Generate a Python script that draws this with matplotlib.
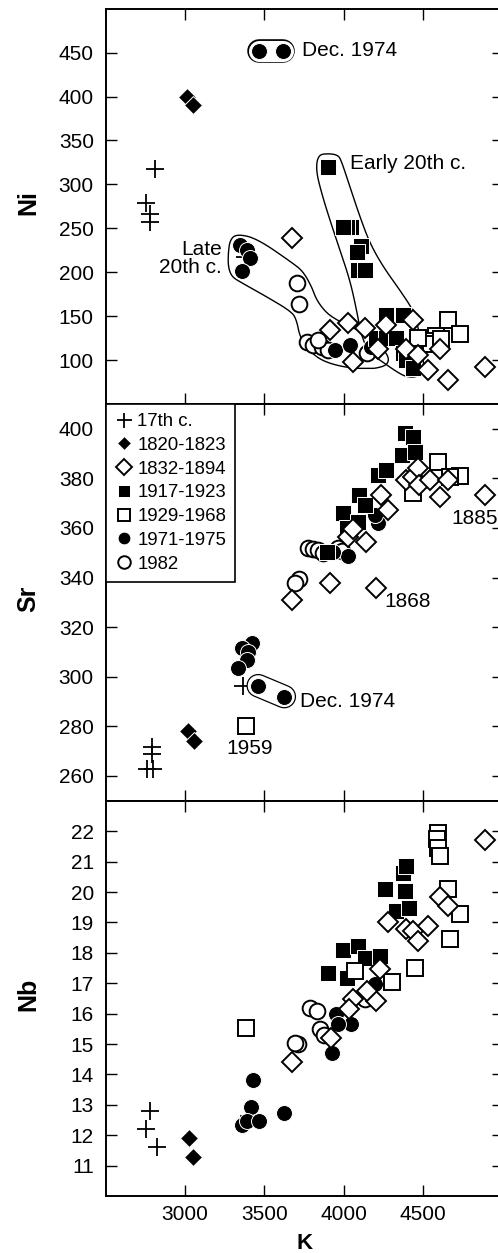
import matplotlib
matplotlib.use("Agg")
import matplotlib.pyplot as plt
import numpy as np
from matplotlib.path import Path
from matplotlib.patches import PathPatch

plt.rcParams['font.family'] = ['Liberation Sans', 'DejaVu Sans']

# ---------------- data ----------------
groups = ['17th c.', '1820-1823', '1832-1894', '1917-1923', '1929-1968', '1971-1975', '1982']

# Ni panel
k_ni_17c = [2811, 2753, 2780, 2780, 3377]
ni_17c = [317, 279, 266, 257, 217]
k_ni_1820 = [3015, 3052]
ni_1820 = [400, 390]
k_ni_1832 = [3671, 3912, 4027, 4132, 4268, 4436, 4216, 4058, 4394, 4468, 4531, 4656, 4604, 4887]
ni_1832 = [239, 134, 142, 136, 140, 146, 112, 98, 113, 106, 89, 77, 113, 92]
k_ni_1917 = [3901, 4044, 4019, 3996, 4110, 4080, 4090, 4132, 4268, 4373, 4205, 4268, 4331, 4373, 4394, 4436]
ni_1917 = [320, 251, 251, 251, 230, 223, 203, 203, 151, 151, 125, 125, 125, 108, 100, 91]
k_ni_1929 = [4656, 4730, 4583, 4560, 4551, 4614, 4468]
ni_1929 = [146, 130, 127, 122, 118, 124, 125]
k_ni_1971 = [3346, 3388, 3409, 3356, 3943, 4038, 4174]
ni_1971 = [231, 225, 216, 201, 111, 117, 115]
k_ni_dec74 = [3467, 3618]
ni_dec74 = [452, 452]
k_ni_1982 = [3702, 3717, 3765, 3807, 3860, 3901, 4143, 3840]
ni_1982 = [188, 164, 121, 117, 115, 111, 108, 123]

# Sr panel
k_sr_17c = [2790, 2790, 2759, 2801, 3367]
sr_17c = [271.8, 269, 263, 263, 296.4]
k_sr_1820 = [3021, 3058]
sr_1820 = [278, 274]
k_sr_1832 = [3675, 3912, 4201, 4027, 4058, 4137, 4233, 4279, 4394, 4436, 4468, 4474, 4541, 4604, 4656, 4887]
sr_1832 = [331, 338, 335.7, 356.5, 359.5, 354.2, 373.3, 367.3, 379.4, 380.4, 384, 377.3, 379.4, 372.6, 379.4, 373.3]
k_sr_1917 = [3897, 3996, 4017, 4097, 4132, 4090, 4216, 4268, 4363, 4384, 4436, 4447]
sr_1917 = [350.2, 365.9, 360, 373.3, 369.3, 362.5, 381.4, 383.4, 389.4, 398.2, 396.8, 390.8]
k_sr_1929 = [3381, 4593, 4730, 4667, 4436]
sr_1929 = [280.3, 386.7, 381, 380.7, 374]
k_sr_1971 = [3419, 3356, 3398, 3388, 3335, 4027, 4212, 4195, 3933]
sr_1971 = [313.5, 311.5, 310, 306.8, 303.4, 348.7, 362, 365.2, 350.4]
k_sr_dec74 = [3461, 3625]
sr_dec74 = [296.4, 292]
k_sr_1982 = [3719, 3692, 3776, 3807, 3840, 3870, 3960, 3990]
sr_1982 = [339.3, 338, 351.8, 351.5, 351, 350, 351.8, 350.5]

# Nb panel
k_nb_17c = [2780, 2753, 2822, 3403]
nb_17c = [12.8, 12.2, 11.6, 12.63]
k_nb_1820 = [3027, 3052]
nb_1820 = [11.9, 11.3]
k_nb_1832 = [4890, 4604, 4656, 4275, 4394, 4436, 4468, 4531, 4226, 4205, 4143, 4058, 4033, 3922, 3675]
nb_1832 = [21.7, 19.84, 19.54, 19.03, 18.78, 18.72, 18.39, 18.88, 17.46, 16.42, 16.75, 16.47, 16.14, 15.21, 14.42]
k_nb_1917 = [3901, 3996, 4017, 4090, 4132, 4226, 4258, 4331, 4373, 4390, 4384, 4411]
nb_1917 = [17.35, 18.1, 17.18, 18.23, 17.84, 17.9, 20.09, 19.38, 20.64, 20.86, 20.04, 19.49]
k_nb_1929 = [3381, 4593, 4587, 4593, 4604, 4656, 4730, 4667, 4447, 4306, 4069]
nb_1929 = [15.52, 21.95, 21.74, 21.46, 21.19, 20.09, 19.27, 18.45, 17.51, 17.05, 17.4]
k_nb_1971 = [3426, 3415, 3356, 3388, 3467, 3625, 3927, 3950, 4042, 4195, 3964]
nb_1971 = [13.82, 12.94, 12.33, 12.47, 12.47, 12.74, 14.72, 16.0, 15.67, 16.97, 15.65]
k_nb_1982 = [3713, 3692, 3786, 3828, 3849, 3875, 4132]
nb_1982 = [15.0, 15.05, 16.2, 16.09, 15.5, 15.3, 16.47]

# group envelopes (K, Ni) in the Ni panel
late20_env_k = [3325, 3451, 3681, 3744, 3797, 3828, 3891, 3975, 4080, 4180, 4250, 4285, 4270,
                4200, 4164, 4038, 3870, 3776, 3723, 3702, 3671, 3514, 3346, 3294, 3272, 3272, 3283]
late20_env_ni = [243.5, 238.6, 210, 200.6, 183.5, 168.3, 153.2, 143.6, 135, 124, 112, 102, 94,
                 90.5, 90.5, 90.5, 98, 111.4, 126.5, 145.6, 155, 172, 189, 195, 206, 221.5, 236.7]
early20_env_k = [3824, 3838, 3899, 3964, 3986, 4038, 4101, 4164, 4247, 4352, 4436, 4465, 4499, 4503,
                 4465, 4394, 4331, 4226, 4164, 4111, 4080, 4038, 3975, 3912, 3860]
early20_env_ni = [316.4, 333.5, 335.2, 333.5, 325.9, 297.4, 263.2, 232.9, 206.3, 179.7, 156.9, 139.9,
                  105.7, 88.6, 80.6, 80.6, 86.7, 100, 107.6, 126.5, 157, 191, 225.3, 259.5, 289.9]

x_ticks = [3000, 3500, 4000, 4500]
ni_ticks = [100, 150, 200, 250, 300, 350, 400, 450]
sr_ticks = [260, 280, 300, 320, 340, 360, 380, 400]
nb_ticks = list(range(11, 23))

# ---------------- styles ----------------
styles = {
    '17th c.':   dict(marker='+', ms=13.5, mew=1.3, color='black', z=2),
    '1820-1823': dict(marker='D', ms=8.8, mfc='black', mec='white', mew=0.7, z=8),
    '1832-1894': dict(marker='D', ms=10.0, mfc='white', mec='black', mew=1.4, z=7),
    '1917-1923': dict(marker='s', ms=11.5, mfc='black', mec='white', mew=0.7, z=5),
    '1929-1968': dict(marker='s', ms=11.3, mfc='white', mec='black', mew=1.4, z=6),
    '1971-1975': dict(marker='o', ms=11.5, mfc='black', mec='white', mew=0.7, z=4),
    '1982':      dict(marker='o', ms=11.3, mfc='white', mec='black', mew=1.4, z=3),
}

FS = 15
fig = plt.figure(figsize=(4.98, 12.53), dpi=100)
W, H = 498.0, 1253.0
left = 105.6 / W
width = 397.1 / W


def ax_at(top_px, bot_px):
    return fig.add_axes([left, 1 - bot_px / H, width, (bot_px - top_px) / H])


ax1 = ax_at(8.8, 403.9)
ax2 = ax_at(403.9, 800.8)
ax3 = ax_at(800.8, 1196.1)


def draw(ax, kd, vd):
    handles = {}
    for g in groups:
        st = dict(styles[g])
        z = st.pop('z')
        if g == '17th c.':
            h, = ax.plot(kd[g], vd[g], ls='none', marker=st['marker'], ms=st['ms'],
                         mew=st['mew'], color=st['color'], zorder=z, label=g)
        else:
            h, = ax.plot(kd[g], vd[g], ls='none', marker=st['marker'], ms=st['ms'],
                         mfc=st['mfc'], mec=st['mec'], mew=st['mew'], zorder=z, label=g)
        handles[g] = h
    return handles


def capsule(ax, ks, vs):
    ax.plot(ks, vs, color='black', lw=17.0, solid_capstyle='round', zorder=3.5)
    ax.plot(ks, vs, color='white', lw=15.2, solid_capstyle='round', zorder=3.6)


def chaikin(xs, ys, n=3):
    pts = np.column_stack([xs, ys]).astype(float)
    for _ in range(n):
        nxt = np.roll(pts, -1, axis=0)
        q = 0.75 * pts + 0.25 * nxt
        r = 0.25 * pts + 0.75 * nxt
        pts = np.empty((2 * len(q), 2))
        pts[0::2] = q
        pts[1::2] = r
    return pts


def envelope(ax, ks, vs):
    pts = chaikin(ks, vs)
    pts = np.vstack([pts, pts[:1]])
    codes = [Path.MOVETO] + [Path.LINETO] * (len(pts) - 2) + [Path.CLOSEPOLY]
    ax.add_patch(PathPatch(Path(pts, codes), fill=False, edgecolor='black', lw=1.0, zorder=1.5))


# Ni panel
ni_k = {'17th c.': k_ni_17c, '1820-1823': k_ni_1820, '1832-1894': k_ni_1832, '1917-1923': k_ni_1917,
        '1929-1968': k_ni_1929, '1971-1975': k_ni_1971 + k_ni_dec74, '1982': k_ni_1982}
ni_v = {'17th c.': ni_17c, '1820-1823': ni_1820, '1832-1894': ni_1832, '1917-1923': ni_1917,
        '1929-1968': ni_1929, '1971-1975': ni_1971 + ni_dec74, '1982': ni_1982}
draw(ax1, ni_k, ni_v)
capsule(ax1, k_ni_dec74, ni_dec74)
envelope(ax1, late20_env_k, late20_env_ni)
envelope(ax1, early20_env_k, early20_env_ni)
ax1.text(3734, 453, 'Dec. 1974', fontsize=FS, ha='left', va='center')
ax1.text(4038, 324, 'Early 20th c.', fontsize=FS, ha='left', va='center')
ax1.text(3231, 216, 'Late\n20th c.', fontsize=FS, ha='right', va='center', multialignment='right',
         linespacing=0.95)

# Sr panel
sr_k = {'17th c.': k_sr_17c, '1820-1823': k_sr_1820, '1832-1894': k_sr_1832, '1917-1923': k_sr_1917,
        '1929-1968': k_sr_1929, '1971-1975': k_sr_1971 + k_sr_dec74, '1982': k_sr_1982}
sr_v = {'17th c.': sr_17c, '1820-1823': sr_1820, '1832-1894': sr_1832, '1917-1923': sr_1917,
        '1929-1968': sr_1929, '1971-1975': sr_1971 + sr_dec74, '1982': sr_1982}
hs = draw(ax2, sr_k, sr_v)
capsule(ax2, k_sr_dec74, sr_dec74)
ax2.text(4678, 364, '1885', fontsize=FS, ha='left', va='center')
ax2.text(4258, 330.3, '1868', fontsize=FS, ha='left', va='center')
ax2.text(3723, 290.2, 'Dec. 1974', fontsize=FS, ha='left', va='center')
ax2.text(3409, 271.2, '1959', fontsize=FS, ha='center', va='center')

# Nb panel
nb_k = {'17th c.': k_nb_17c, '1820-1823': k_nb_1820, '1832-1894': k_nb_1832, '1917-1923': k_nb_1917,
        '1929-1968': k_nb_1929, '1971-1975': k_nb_1971, '1982': k_nb_1982}
nb_v = {'17th c.': nb_17c, '1820-1823': nb_1820, '1832-1894': nb_1832, '1917-1923': nb_1917,
        '1929-1968': nb_1929, '1971-1975': nb_1971, '1982': nb_1982}
draw(ax3, nb_k, nb_v)

for ax, lim, ticks, lab in [(ax1, (50, 500), ni_ticks, 'Ni'), (ax2, (250, 410), sr_ticks, 'Sr'),
                            (ax3, (10, 23), nb_ticks, 'Nb')]:
    ax.set_xlim(2500, 5000)
    ax.set_ylim(*lim)
    ax.set_xticks(x_ticks)
    ax.set_yticks(ticks)
    ax.tick_params(direction='in', length=8, width=1.0, top=True, right=True,
                   labelsize=FS, pad=8.5, colors='black')
    for s in ax.spines.values():
        s.set_linewidth(1.4)
    ax.set_ylabel(lab, fontsize=18, fontweight='bold')
    ax.yaxis.set_label_coords(-0.194, 0.51)
    ax.yaxis.label.set_verticalalignment('center')

ax1.tick_params(labelbottom=False)
ax2.tick_params(labelbottom=False)
ax3.tick_params(axis='x', pad=6.5)
ax3.set_xlabel('K', fontsize=16, fontweight='bold')
ax3.xaxis.set_label_coords(0.5, -0.12)
ax3.xaxis.label.set_verticalalignment('center')

leg = ax2.legend([hs[g] for g in groups], groups, loc='upper left', bbox_to_anchor=(0, 1),
                 borderaxespad=0, fontsize=13.4, frameon=True, fancybox=False,
                 edgecolor='black', framealpha=1, handlelength=1.0, handletextpad=0.2,
                 labelspacing=0.36, borderpad=0.5, markerscale=0.8)
leg.get_frame().set_linewidth(1.2)
leg.set_zorder(20)

fig.savefig('out.png', dpi=100)
